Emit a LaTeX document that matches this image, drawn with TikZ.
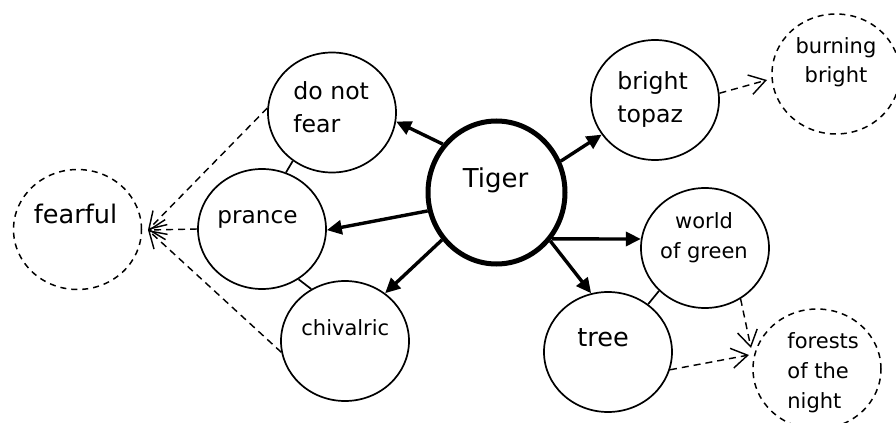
\documentclass[tikz,border=0pt]{standalone}
\usepackage{fontspec}
\setmainfont{DejaVu Sans}
\usetikzlibrary{shapes.geometric,arrows.meta}
\begin{document}
\begin{tikzpicture}[x=0.5pt,y=-0.5pt,
  bub/.style={draw,ellipse,line width=0.85pt,minimum width=64pt,minimum height=60pt,inner sep=0pt},
  dbub/.style={bub,line width=0.75pt,dash pattern=on 3pt off 2.5pt},
  hub/.style={draw,ellipse,line width=2.5pt,minimum width=68.5pt,minimum height=71.5pt,inner sep=0pt},
  strong/.style={line width=1.7pt,-{Triangle[length=7.5pt,width=7pt]}},
  weak/.style={line width=0.72pt,dash pattern=on 3.5pt off 2.5pt,-{Straight Barb[length=8pt,width=10pt]}},
  tie/.style={line width=0.85pt},
  txt/.style={inner sep=0pt,align=left},
  big/.style={font=\fontsize{12.8}{16}\selectfont},
  mid/.style={font=\fontsize{11.8}{16.5}\selectfont},
  sml/.style={font=\fontsize{10.5}{14.8}\selectfont},
]
\useasboundingbox (0,0) rectangle (896,423);
% bubbles
\node[hub] (tiger) at (496.5,192.5) {};
\node[bub] (dnf) at (332,112.5) {};
\node[bub] (prance) at (262,229) {};
\node[bub] (chiv) at (345,341) {};
\node[dbub] (fearful) at (77.5,229.5) {};
\node[bub] (bt) at (655,100) {};
\node[dbub] (burning) at (836,74) {};
\node[bub] (wog) at (705,248) {};
\node[bub] (tree) at (608,352) {};
\node[dbub] (forests) at (817,369) {};
% texts (anchor = baseline of the last line)
\node[txt,anchor=base,font=\fontsize{13}{16}\selectfont] (tigerT) at (495.5,187.7) {Tiger};
\node[txt,anchor=base west,mid] (dnfT) at (293,132) {do not\\fear};
\node[txt,anchor=base,big] (fearfulT) at (75.5,223) {fearful};
\node[txt,anchor=base west,font=\fontsize{11.6}{16}\selectfont] (pranceT) at (217,223) {prance};
\node[txt,anchor=base west,sml] (chivT) at (301,335) {chivalric};
\node[txt,anchor=base west,mid] (btT) at (617,122) {bright\\topaz};
\node[txt,anchor=base,sml,align=center] (burningT) at (836,83) {burning\\bright};
\node[txt,anchor=base,sml,align=center] (wogT) at (704,258) {world\\of green};
\node[txt,anchor=base west,big] (treeT) at (577,346.7) {tree};
\node[txt,anchor=base west,sml] (forestsT) at (787,408) {forests\\of the\\night};
% meeting points
\coordinate (fearin) at (148,230);
\coordinate (burnin) at (767,80);
\coordinate (forinA) at (751,348);
\coordinate (forinB) at (749,355);
% strong arrows
\draw[strong] (tiger.138) -- (dnf.-8);
\draw[strong] (tiger.195.6) -- (prance.-1);
\draw[strong] (tiger.221.2) -- (chiv.50.5);
\draw[strong] (tiger.26) -- (bt.213.4);
\draw[strong] (tiger.-40) -- (wog.172);
\draw[strong] (tiger.-42.3) -- (tree.106.5);
% ties
\draw[tie] (dnf.231.8) -- (prance.67.7);
\draw[tie] (prance.-54.8) -- (chiv.123.4);
\draw[tie] (wog.223.7) -- (tree.50.6);
% weak arrows
\draw[weak] (dnf.176) -- (fearin);
\draw[weak] (prance.180) -- (fearin);
\draw[weak] (chiv.190) -- (fearin);
\draw[weak] (bt.6) -- (burnin);
\draw[weak] (wog.-55.6) -- (forinA);
\draw[weak] (tree.-16.5) -- (forinB);
\end{tikzpicture}
\end{document}
